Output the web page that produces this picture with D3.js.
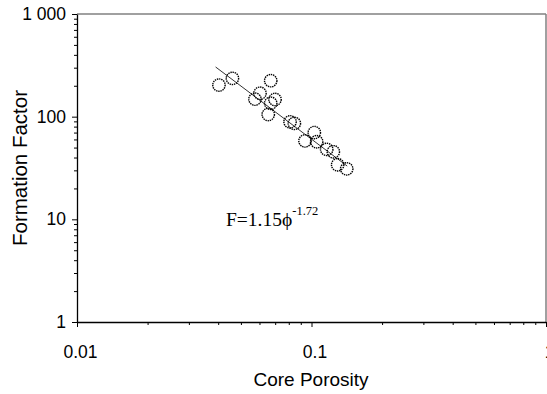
<!DOCTYPE html>
<html>
<head>
<meta charset="utf-8">
<script src="https://cdn.jsdelivr.net/npm/d3@7"></script>
<style>
  html, body { margin: 0; padding: 0; background: #fff; }
  svg { display: block; }
</style>
</head>
<body>
<svg id="chart" width="547" height="394"></svg>
<script>
// Core porosity (fraction) and measured formation factor for each plug
const porosity = [0.0403, 0.0460, 0.0670, 0.0603, 0.0574, 0.0699, 0.0670, 0.0654, 0.0810,
                  0.0845, 0.1028, 0.0938, 0.1052, 0.1161, 0.1239, 0.1293, 0.1413];
const formationFactor = [203, 236, 224, 169, 148, 147, 135, 105, 89,
                         86, 70, 58, 57, 48, 45.5, 34, 31];

// Archie-type fit F = a * phi^-m
const fitA = 1.15;
const fitM = 1.72;
const fitRange = [0.039, 0.142];

const xMajorTicks = [0.01, 0.1, 1];
const xTickLabels = ["0.01", "0.1", "1"];
const yMajorTicks = [1, 10, 100, 1000];
const yTickLabels = ["1", "10", "100", "1 000"];

const svg = d3.select("#chart");
const plotLeft = 77, plotRight = 546, plotTop = 14, plotBottom = 322;

const x = d3.scaleLog().domain([0.01, 1]).range([plotLeft, plotRight]);
const y = d3.scaleLog().domain([1, 1000]).range([plotBottom, plotTop]);

// minor ticks at 2..9 within each decade
const minorX = [];
[0.01, 0.1].forEach(d => { for (let k = 2; k <= 9; k++) minorX.push(d * k); });
const minorY = [];
[1, 10, 100].forEach(d => { for (let k = 2; k <= 9; k++) minorY.push(d * k); });

// grey frame on top and right
svg.append("line").attr("x1", plotLeft).attr("x2", plotRight).attr("y1", plotTop).attr("y2", plotTop)
  .attr("stroke", "#808080").attr("stroke-width", 1.5);
svg.append("line").attr("x1", plotRight).attr("x2", plotRight).attr("y1", plotTop).attr("y2", plotBottom)
  .attr("stroke", "#808080").attr("stroke-width", 1.5);

// x axis
const gxMinor = svg.append("g").attr("transform", `translate(0,${plotBottom})`)
  .call(d3.axisBottom(x).tickValues(minorX).tickSize(3).tickFormat(""));
gxMinor.select(".domain").remove();
const gx = svg.append("g").attr("transform", `translate(0,${plotBottom})`)
  .call(d3.axisBottom(x).tickValues(xMajorTicks).tickSize(5).tickSizeOuter(0)
    .tickFormat((d, i) => xTickLabels[i]));
gx.selectAll("text").attr("y", 24).attr("dx", 3)
  .attr("font-family", "Liberation Sans, Arial, sans-serif").attr("font-size", 17.5).attr("fill", "#000");

// y axis
const gyMinor = svg.append("g").attr("transform", `translate(${plotLeft},0)`)
  .call(d3.axisLeft(y).tickValues(minorY).tickSize(3).tickFormat(""));
gyMinor.select(".domain").remove();
const gy = svg.append("g").attr("transform", `translate(${plotLeft},0)`)
  .call(d3.axisLeft(y).tickValues(yMajorTicks).tickSize(5).tickSizeOuter(0)
    .tickFormat((d, i) => yTickLabels[i]));
gy.selectAll("text").attr("x", -11)
  .attr("font-family", "Liberation Sans, Arial, sans-serif").attr("font-size", 17.5).attr("fill", "#000");

svg.selectAll(".domain").attr("stroke", "#000").attr("stroke-width", 1.3);
svg.selectAll(".tick line").attr("stroke", "#000");

// fitted power-law line
const fitPts = fitRange.map(p => [p, fitA * Math.pow(p, -fitM)]);
svg.append("path")
  .attr("d", d3.line().x(d => x(d[0])).y(d => y(d[1]))(fitPts))
  .attr("fill", "none").attr("stroke", "#333").attr("stroke-width", 1);

// data markers
svg.append("g").selectAll("circle")
  .data(porosity.map((p, i) => [p, formationFactor[i]]))
  .join("circle")
  .attr("cx", d => x(d[0])).attr("cy", d => y(d[1])).attr("r", 6.2)
  .attr("fill", "none").attr("stroke", "#000").attr("stroke-width", 1.4)
  .attr("stroke-dasharray", "1.4,0.8");

// fit equation
const eq = svg.append("text").attr("x", 226).attr("y", 226)
  .attr("font-family", "Liberation Serif, Times New Roman, serif").attr("font-size", 19.5).attr("fill", "#000");
eq.append("tspan").text("F=1.15\u03D5");
eq.append("tspan").attr("font-size", 12.5).attr("dy", -11).text("-1.72");

// axis titles
svg.append("text").attr("x", 311).attr("y", 386).attr("text-anchor", "middle")
  .attr("font-family", "Liberation Sans, Arial, sans-serif").attr("font-size", 19).text("Core Porosity");
svg.append("text").attr("transform", "translate(27,168) rotate(-90)").attr("text-anchor", "middle")
  .attr("font-family", "Liberation Sans, Arial, sans-serif").attr("font-size", 20.5).text("Formation Factor");
</script>
</body>
</html>
